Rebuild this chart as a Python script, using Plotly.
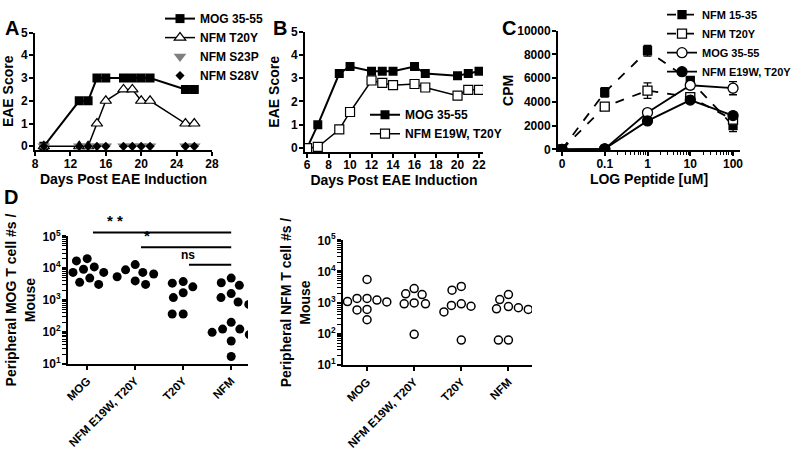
import math
import plotly.graph_objects as go

# ---------------- Data ----------------
# Panel A
a_days = [9, 13, 14, 15, 16, 18, 19, 20, 21, 25, 26]
a_mog = [0, 2, 2, 3, 3, 3, 3, 3, 3, 2.5, 2.5]
a_t20y = [0, 0, 0, 1, 2, 2.5, 2.5, 2, 2, 1, 1]
a_s23p = [0, 0, 0, 0, 0, 0, 0, 0, 0, 0, 0]
a_s28v = [0, 0, 0, 0, 0, 0, 0, 0, 0, 0, 0]

# Panel B
b_days = [6, 7, 9, 10, 12, 13, 14, 16, 17, 20, 21, 22]
b_mog = [0, 1.0, 3.2, 3.5, 3.3, 3.3, 3.3, 3.5, 3.2, 3.1, 3.2, 3.3]
b_e19w = [0, 0.05, 0.8, 1.55, 2.9, 2.8, 2.7, 2.75, 2.6, 2.25, 2.5, 2.5]

# Panel C
c_dose = [0, 0.1, 1, 10, 100]
c_dose_labels = ["0", "0.1", "1", "10", "100"]
c_cpm_ticks = [0, 2000, 4000, 6000, 8000, 10000]
c_nfm1535 = [0, 4800, 8300, 5800, 2000]
c_nfm1535_err = [0, 400, 450, 250, 500]
c_nfmt20y = [0, 3600, 4950, 4400, 2500]
c_nfmt20y_err = [0, 200, 650, 250, 300]
c_mog = [0, 50, 3100, 5400, 5150]
c_mog_err = [0, 0, 150, 300, 550]
c_e19w = [0, 50, 2400, 4150, 2850]
c_e19w_err = [0, 0, 100, 150, 200]

# Panel D
d_groups = ["MOG", "NFM E19W, T20Y", "T20Y", "NFM"]
d_mog_counts = [
    [11000, 17000, 20000, 4900, 7400, 7400, 9300, 5500, 3100, 3600],
    [7400, 5400, 13000, 6600, 8900, 3100, 4000],
    [3800, 2600, 3400, 1700, 1200, 365, 365],
    [4900, 2900, 3500, 1600, 870, 730, 1200, 200, 97, 80, 123, 123, 52, 83, 17],
]
d_nfm_counts = [
    [5500, 1350, 1200, 1350, 1050, 930, 1070, 600, 580, 280],
    [2800, 1800, 1900, 910, 910, 970, 95],
    [2500, 3300, 910, 760, 500, 810, 62],
    [740, 1250, 1800, 630, 600, 680, 62, 62],
]
d_sig = [("* *", 0, 3), ("*", 1, 3), ("ns", 2, 3)]

# ---------------- Layout helpers ----------------
W, H = 800, 452


def dx(p0, p1):
    return [p0 / W, p1 / W]


def dy(top, bottom):
    return [1 - bottom / H, 1 - top / H]


def swarm(values, px_decade, px_cat, diam):
    """Simple deterministic beeswarm: offsets (in category units)."""
    order = sorted(range(len(values)), key=lambda i: -values[i])
    placed = []
    offs = [0.0] * len(values)
    for i in order:
        y = math.log10(values[i]) * px_decade
        forb = []
        for xp, yp in placed:
            d = abs(y - yp)
            if d < diam:
                w = math.sqrt(diam ** 2 - d ** 2)
                forb.append((xp - w, xp + w))
        cands = [0.0] + [a for a, b in forb] + [b for a, b in forb]
        cands.sort(key=lambda c: (abs(c), c))
        chosen = 0.0
        for c in cands:
            if all(not (a + 1e-6 < c < b - 1e-6) for a, b in forb):
                chosen = c
                break
        placed.append((chosen, y))
        offs[i] = chosen / px_cat
    return offs


def pow10_label(v):
    return "10<sup>%d</sup>" % round(math.log10(v))


BLACK = "black"
FONT = "Liberation Sans"

fig = go.Figure()

# ---------------- Panel A ----------------
fig.add_trace(go.Scatter(x=a_days, y=a_mog, name="MOG 35-55", mode="lines+markers",
                         line=dict(color=BLACK, width=2),
                         marker=dict(symbol="square", size=9, color=BLACK),
                         xaxis="x", yaxis="y", legend="legend"))
fig.add_trace(go.Scatter(x=a_days, y=a_t20y, name="NFM T20Y", mode="lines+markers",
                         line=dict(color=BLACK, width=1.5),
                         marker=dict(symbol="triangle-up", size=10, color="white",
                                     line=dict(color=BLACK, width=1.2)),
                         xaxis="x", yaxis="y", legend="legend"))
fig.add_trace(go.Scatter(x=a_days, y=a_s23p, name="NFM S23P", mode="markers",
                         marker=dict(symbol="triangle-down", size=11, color="#7f7f7f"),
                         xaxis="x", yaxis="y", legend="legend"))
fig.add_trace(go.Scatter(x=a_days, y=a_s28v, name="NFM S28V", mode="markers",
                         marker=dict(symbol="diamond", size=7, color=BLACK),
                         xaxis="x", yaxis="y", legend="legend"))

# ---------------- Panel B ----------------
fig.add_trace(go.Scatter(x=b_days, y=b_mog, name="MOG 35-55", mode="lines+markers",
                         line=dict(color=BLACK, width=2),
                         marker=dict(symbol="square", size=9, color=BLACK),
                         xaxis="x2", yaxis="y2", legend="legend2"))
fig.add_trace(go.Scatter(x=b_days, y=b_e19w, name="NFM E19W, T20Y", mode="lines+markers",
                         line=dict(color=BLACK, width=1.5),
                         marker=dict(symbol="square", size=9, color="white",
                                     line=dict(color=BLACK, width=1.2)),
                         xaxis="x2", yaxis="y2", legend="legend2"))

# ---------------- Panel C ----------------
c_plot_x = [d if d > 0 else 0.01 for d in c_dose]  # "0" drawn one decade below 0.1
c_series = [
    ("NFM 15-35", c_nfm1535, c_nfm1535_err, "square", "dash", 8),
    ("NFM T20Y", c_nfmt20y, c_nfmt20y_err, "square-open", "dash", 9),
    ("MOG 35-55", c_mog, c_mog_err, "circle-open", "solid", 10),
    ("NFM E19W, T20Y", c_e19w, c_e19w_err, "circle", "solid", 10),
]
for name, vals, err, sym, dash, size in c_series:
    fill = "white" if sym.endswith("open") else BLACK
    fig.add_trace(go.Scatter(x=c_plot_x, y=vals, name=name, mode="lines+markers",
                             line=dict(color=BLACK, width=1.8, dash=dash),
                             marker=dict(symbol=sym.replace("-open", ""), size=size, color=fill,
                                         line=dict(color=BLACK, width=1.3)),
                             error_y=dict(type="data", array=err, visible=True,
                                          color=BLACK, thickness=1.3, width=4),
                             xaxis="x3", yaxis="y3", legend="legend3"))

# ---------------- Panel D ----------------
for gi, vals in enumerate(d_mog_counts):
    offs = swarm(vals, 32.5, 48.0, 11.0)
    fig.add_trace(go.Scatter(x=[gi + o for o in offs], y=vals, mode="markers",
                             marker=dict(symbol="circle", size=9, color=BLACK),
                             showlegend=False, xaxis="x4", yaxis="y4"))
for gi, vals in enumerate(d_nfm_counts):
    offs = swarm(vals, 31.8, 47.0, 10.0)
    fig.add_trace(go.Scatter(x=[gi + o for o in offs], y=vals, mode="markers",
                             marker=dict(symbol="circle", size=8, color="white",
                                         line=dict(color=BLACK, width=1.5)),
                             showlegend=False, xaxis="x5", yaxis="y5"))

# ---------------- Axes ----------------
base = dict(showline=True, linecolor=BLACK, linewidth=2, ticks="outside", ticklen=4,
            tickwidth=2, tickcolor=BLACK, showgrid=False, zeroline=False, automargin=False,
            tickfont=dict(size=12, family=FONT, weight="bold", color=BLACK))
bx = dict(base, ticklabelstandoff=-3)
by = dict(base, ticklabelstandoff=-1)
bd = dict(base, tickfont=dict(size=11.5, family=FONT, weight="bold", color=BLACK))
tfont = dict(size=14, family=FONT, weight="bold", color=BLACK)

minor_log_d = [k * 10 ** e for e in range(1, 5) for k in range(2, 10)]
minor_log_c = [k * 10 ** e for e in range(-1, 2) for k in range(2, 10)]
log_ticks = [10, 100, 1000, 10000, 100000]

fig.update_layout(
    xaxis=dict(bx, domain=dx(35, 212), range=[8, 28], tickvals=[8, 12, 16, 20, 24, 28],
               anchor="y", title=dict(text="Days Post EAE Induction", font=tfont, standoff=0)),
    yaxis=dict(by, domain=dy(24, 144), range=[-0.17, 5], tickvals=[0, 1, 2, 3, 4, 5],
               anchor="x", title=dict(text="EAE Score", font=tfont, standoff=8)),
    xaxis2=dict(bx, domain=dx(305, 483), range=[5.81, 22.37],
                tickvals=[6, 8, 10, 12, 14, 16, 18, 20, 22], anchor="y2",
                title=dict(text="Days Post EAE Induction", font=tfont, standoff=0)),
    yaxis2=dict(by, domain=dy(23, 146), range=[-0.17, 5], tickvals=[0, 1, 2, 3, 4, 5],
                anchor="x2", title=dict(text="EAE Score", font=tfont, standoff=8)),
    xaxis3=dict(bx, domain=dx(558, 740), type="log", range=[-2.093, 2.163],
                tickvals=c_plot_x, ticktext=c_dose_labels, anchor="y3",
                minor=dict(tickmode="array", tickvals=minor_log_c, ticks="outside",
                           ticklen=3, tickwidth=1, tickcolor=BLACK),
                title=dict(text="LOG Peptide [uM]", font=tfont, standoff=2)),
    yaxis3=dict(by, domain=dy(22, 144), range=[-60, 10000],
                tickvals=c_cpm_ticks, ticktext=[str(v) for v in c_cpm_ticks], anchor="x3",
                title=dict(text="CPM", font=tfont, standoff=0)),
    xaxis4=dict(bd, domain=dx(68, 248), range=[-0.4, 3.35], tickvals=[0, 1, 2, 3],
                ticktext=d_groups, tickangle=-45, anchor="y4"),
    yaxis4=dict(by, domain=dy(232, 362), type="log", range=[1, 5],
                tickvals=log_ticks, ticktext=[pow10_label(v) for v in log_ticks], anchor="x4",
                minor=dict(tickmode="array", tickvals=minor_log_d, ticks="outside",
                           ticklen=4, tickwidth=1, tickcolor=BLACK),
                title=dict(text="Peripheral MOG T cell #s /<br>Mouse", font=tfont, standoff=4)),
    xaxis5=dict(bd, domain=dx(343, 532), range=[-0.51, 3.5], tickvals=[0, 1, 2, 3],
                ticktext=d_groups, tickangle=-45, anchor="y5"),
    yaxis5=dict(by, domain=dy(236, 363), type="log", range=[1, 5],
                tickvals=log_ticks, ticktext=[pow10_label(v) for v in log_ticks], anchor="x5",
                minor=dict(tickmode="array", tickvals=minor_log_d, ticks="outside",
                           ticklen=4, tickwidth=1, tickcolor=BLACK),
                title=dict(text="Peripheral NFM T cell #s /<br>Mouse", font=tfont, standoff=4)),
)

legfont = dict(size=12, family=FONT, weight="bold", color=BLACK)
fig.update_layout(
    legend=dict(x=160 / W, y=1 + 5 / H, xanchor="left", yanchor="top", font=legfont,
                bgcolor="rgba(0,0,0,0)", tracegroupgap=0, itemwidth=30),
    legend2=dict(x=365 / W, y=1 - 93 / H, xanchor="left", yanchor="top", font=legfont,
                 bgcolor="rgba(0,0,0,0)", itemwidth=30),
    legend3=dict(x=662 / W, y=1 + 9 / H, xanchor="left", yanchor="top",
                 font=dict(legfont, size=11), bgcolor="rgba(0,0,0,0)", itemwidth=30),
)

# Significance bars for panel D (left)
x4r = [-0.4, 3.35]
x4px = 180.0
shapes = []
annos = []
sig_levels = [1.031, 0.915, 0.777]
sig_text_shift = [12, 6, 8]
for (lab, g0, g1), yd, sh in zip(d_sig, sig_levels, sig_text_shift):
    f0 = (g0 + 0.12 - x4r[0]) / (x4r[1] - x4r[0])
    f1 = (g1 - x4r[0]) / (x4r[1] - x4r[0])
    shapes.append(dict(type="line", xref="x4 domain", yref="y4 domain",
                       x0=f0, x1=f1, y0=yd, y1=yd, line=dict(color=BLACK, width=2)))
    annos.append(dict(xref="x4 domain", yref="y4 domain", x=f0 + sh / x4px, y=yd + 0.01,
                      text=lab, showarrow=False, yanchor="bottom",
                      font=dict(size=15 if "*" in lab else 12, family=FONT, color=BLACK)))

# Panel letters
for letter, px, py in [("A", 12, 19), ("B", 280, 19), ("C", 509, 19), ("D", 11, 192)]:
    annos.append(dict(xref="paper", yref="paper", x=px / W, y=1 - py / H, text=letter,
                      showarrow=False, xanchor="center", yanchor="middle",
                      font=dict(size=20, family=FONT, weight="bold", color=BLACK)))

fig.update_layout(
    width=W, height=H, margin=dict(l=0, r=0, t=0, b=0),
    paper_bgcolor="white", plot_bgcolor="white",
    font=dict(family=FONT, size=12, color=BLACK, weight="bold"),
    shapes=shapes, annotations=annos,
)

fig.write_html("out.html", config={"displayModeBar": False},
               post_script="document.body.style.margin='0px';document.body.style.overflow='hidden';")
